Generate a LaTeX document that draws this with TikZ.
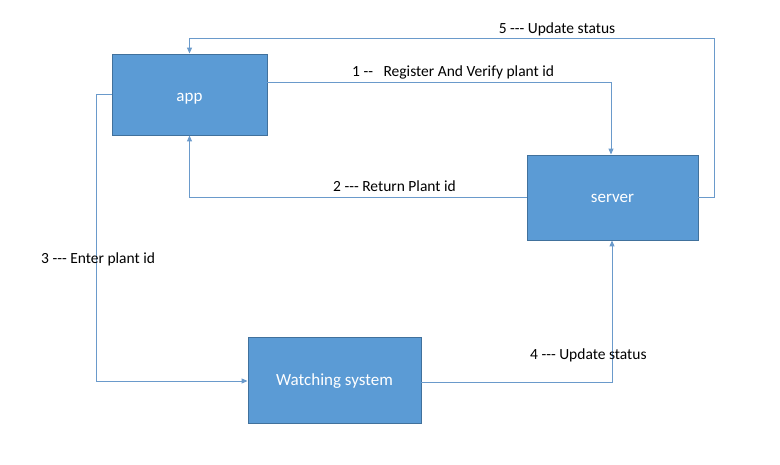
\documentclass[tikz,border=0pt]{standalone}
\usepackage{fontspec}
\setmainfont{Carlito}[Ligatures=TeXOff]
\usetikzlibrary{arrows.meta}
\definecolor{boxfill}{HTML}{5B9BD5}
\definecolor{boxline}{HTML}{41719C}
\definecolor{conn}{HTML}{6A9ACB}
\begin{document}
\begin{tikzpicture}[x=1pt,y=-1pt,
  blockbox/.style={draw=boxline, line width=0.9pt, fill=boxfill, text=white, inner sep=0pt, text depth=0pt, text height=9pt, font=\fontsize{17}{19}\selectfont},
  conn/.style={draw=conn, line width=1pt, -{Triangle[length=6pt,width=5pt]}},
  lbl/.style={font=\fontsize{15.5}{18}\selectfont, text=black, inner sep=0pt}]
\useasboundingbox (0,0) rectangle (780,464);
\node[blockbox, text height=13pt, minimum width=155pt, minimum height=81pt] (app) at (189.5,94.5) {app};
\node[blockbox, minimum width=171pt, minimum height=85pt] (server) at (612.5,197.5) {server};
\node[blockbox, text height=10pt, minimum width=173pt, minimum height=86pt] (watch) at (334.5,380) {Watching system};
% 1
\draw[conn] (app.east |- 0,82) -| (611,0 |- server.north);
% 2
\draw[conn] (server.west) -| (app.south);
% 3
\draw[conn] (app.west |- 0,94) -- (96,94) |- (watch.west |- 0,381);
% 4
\draw[conn] (watch.east |- 0,382) -| (612,0 |- server.south);
% 5
\draw[conn] (server.east) -- (714,197.5) |- (189.5,38) -- (app.north);
\node[lbl] (l5) at (557,29) {5 --- Update status};
\node[lbl, anchor=west] (l1) at (352,72) {1 --\ \ \ Register And Verify plant id};
\node[lbl, anchor=west] (l2) at (333,186) {2 --- Return Plant id};
\node[lbl, anchor=west] (l3) at (41,259) {3 --- Enter plant id};
\node[lbl, anchor=west] (l4) at (530,355) {4 --- Update status};
\end{tikzpicture}
\end{document}
